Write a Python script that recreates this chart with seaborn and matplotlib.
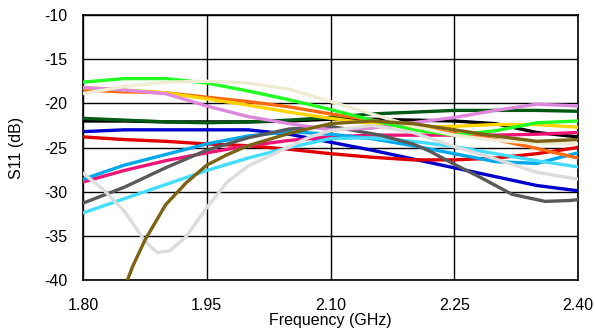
import numpy as np
import pandas as pd
import matplotlib
matplotlib.use("Agg")
import matplotlib.pyplot as plt
import seaborn as sns

# Common frequency sampling (GHz) for most measured traces
freq = [1.80, 1.85, 1.90, 1.95, 2.00, 2.05, 2.10, 2.15, 2.20, 2.25, 2.30, 2.35, 2.40]

s11_black = [-22.0, -22.0, -22.1, -22.1, -22.1, -22.0, -21.8, -21.8, -21.9, -22.0, -22.3, -23.3, -23.8]
s11_darkgreen = [-21.7, -21.9, -22.1, -22.2, -22.1, -21.9, -21.6, -21.2, -21.0, -20.8, -20.8, -20.8, -20.9]
s11_blue = [-23.2, -23.0, -23.0, -23.0, -23.0, -23.5, -24.4, -25.3, -26.3, -27.3, -28.3, -29.3, -29.9]
s11_red = [-23.8, -24.1, -24.3, -24.6, -24.8, -25.2, -25.7, -26.1, -26.4, -26.4, -26.2, -25.7, -25.0]
s11_pink = [-28.9, -27.6, -26.5, -25.6, -24.8, -24.2, -23.8, -23.6, -23.6, -23.6, -23.6, -23.5, -23.3]
s11_skyblue = [-28.6, -27.0, -25.8, -24.6, -23.7, -23.2, -23.5, -24.0, -24.8, -25.7, -26.6, -26.8, -25.6]
s11_cyan = [-32.4, -30.8, -29.2, -27.6, -26.2, -25.0, -24.0, -23.9, -24.3, -24.9, -25.7, -26.5, -27.2]
s11_orange = [-18.5, -18.7, -18.8, -19.3, -19.8, -20.4, -21.2, -21.9, -22.6, -23.4, -24.1, -25.1, -26.2]
s11_yellow = [-18.2, -18.5, -18.8, -19.5, -20.2, -21.0, -21.7, -22.3, -22.7, -22.6, -22.4, -22.4, -22.7]
s11_violet = [-18.2, -18.5, -18.9, -20.3, -21.5, -22.3, -23.0, -22.8, -22.2, -21.6, -20.8, -20.1, -20.3]
s11_green = [-17.6, -17.2, -17.2, -17.7, -18.6, -19.6, -20.7, -21.9, -23.0, -23.6, -23.1, -22.2, -22.0]
s11_cream = [-18.9, -18.1, -17.6, -17.5, -17.7, -18.4, -19.8, -21.2, -22.6, -23.6, -24.2, -24.5, -24.6]

# Traces with sharper features are sampled more finely
freq_gray = [1.80, 1.85, 1.90, 1.95, 2.00, 2.05, 2.10, 2.16, 2.20, 2.22,
             2.25, 2.28, 2.32, 2.36, 2.39, 2.40]
s11_gray = [-31.3, -29.5, -27.3, -25.3, -23.9, -22.9, -22.6, -23.6, -24.6, -25.4,
            -26.9, -28.3, -30.3, -31.1, -31.0, -30.9]

freq_lightgray = [1.80, 1.825, 1.85, 1.875, 1.89, 1.905, 1.925, 1.95, 1.975, 2.00,
                  2.025, 2.05, 2.075, 2.10, 2.15, 2.20, 2.25, 2.30, 2.35, 2.40]
s11_lightgray = [-27.9, -29.8, -32.2, -35.6, -36.9, -36.7, -35.1, -31.8, -28.9, -27.1,
                 -26.0, -24.9, -23.8, -23.1, -22.5, -23.3, -24.9, -26.3, -27.8, -28.6]

freq_olive = [1.854, 1.86, 1.875, 1.90, 1.925, 1.95, 1.975, 2.00, 2.05, 2.10,
              2.15, 2.20, 2.25, 2.30, 2.35, 2.40]
s11_olive = [-40.0, -38.5, -35.5, -31.5, -29.0, -27.0, -25.8, -24.8, -23.4, -22.3,
             -22.0, -22.3, -23.0, -23.7, -24.3, -24.1]

traces = [
    ("black", freq, s11_black, "#000000"),
    ("darkgreen", freq, s11_darkgreen, "#005a14"),
    ("blue", freq, s11_blue, "#0000cc"),
    ("red", freq, s11_red, "#e00000"),
    ("pink", freq, s11_pink, "#ee1477"),
    ("skyblue", freq, s11_skyblue, "#00a8ec"),
    ("cyan", freq, s11_cyan, "#44ddff"),
    ("gray", freq_gray, s11_gray, "#595959"),
    ("orange", freq, s11_orange, "#ff6a10"),
    ("yellow", freq, s11_yellow, "#ffd400"),
    ("violet", freq, s11_violet, "#dd88dd"),
    ("green", freq, s11_green, "#22ff22"),
    ("cream", freq, s11_cream, "#eeecd2"),
    ("lightgray", freq_lightgray, s11_lightgray, "#dcdcdc"),
    ("olive", freq_olive, s11_olive, "#7a6414"),
]

frames = []
for name, f, s, _ in traces:
    frames.append(pd.DataFrame({"freq": f, "s11": s, "trace": name}))
df = pd.concat(frames, ignore_index=True)
palette = {name: c for name, _, _, c in traces}
order = [name for name, _, _, _ in traces]

sns.set_style("white")
plt.rcParams["font.family"] = ["Liberation Sans", "DejaVu Sans"]
plt.rcParams["axes.unicode_minus"] = False

fig = plt.figure(figsize=(5.95, 3.31), dpi=100)
ax = fig.add_axes([83 / 595, 1 - 280 / 331, 495 / 595, 265 / 331])

sns.lineplot(data=df, x="freq", y="s11", hue="trace", hue_order=order,
             palette=palette, estimator=None, sort=False, linewidth=2.4,
             legend=False, ax=ax, zorder=3)

ax.set_xlim(1.80, 2.40)
ax.set_ylim(-40, -10)
xt = [1.80, 1.95, 2.10, 2.25, 2.40]
ax.set_xticks(xt)
ax.set_xticklabels([f"{v:.2f}" for v in xt])
ax.set_yticks(range(-40, -9, 5))
ax.grid(True, color="black", linewidth=1.0)
ax.set_axisbelow(True)
for sp in ax.spines.values():
    sp.set_color("black")
    sp.set_linewidth(1.2)
ax.tick_params(axis="both", length=0, labelsize=11.5, colors="black")
ax.tick_params(axis="y", pad=11)
ax.tick_params(axis="x", pad=13)

ax.set_xlabel("Frequency (GHz)", fontsize=11.5, color="black")
ax.set_ylabel("S11 (dB)", fontsize=11.5, color="black")
ax.xaxis.set_label_coords(0.5, -0.125)
ax.yaxis.set_label_coords(-0.12, 0.5)

fig.savefig("out.png", dpi=100)
